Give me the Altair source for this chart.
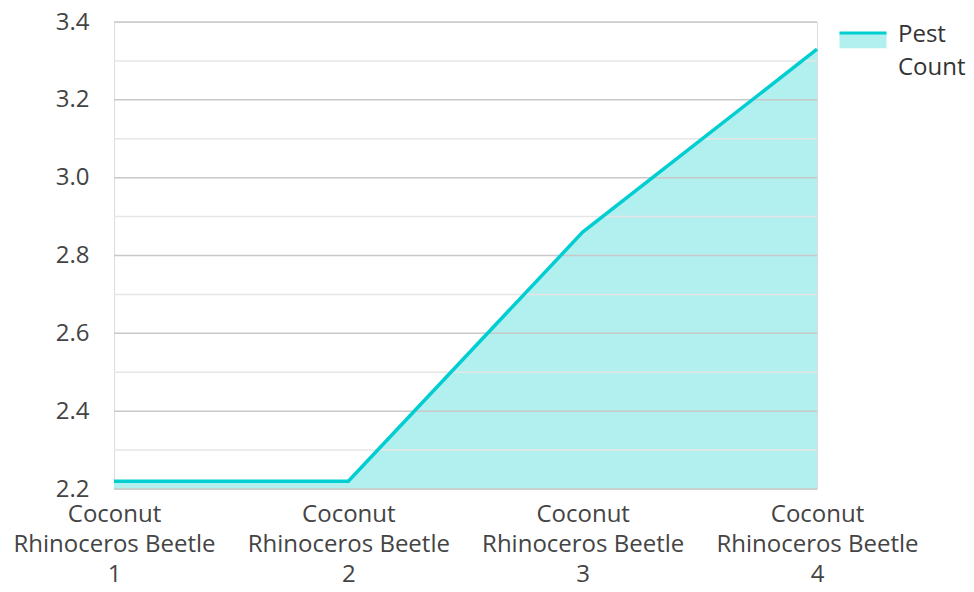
import altair as alt
import pandas as pd

categories = ["Coconut\nRhinoceros Beetle\n1", "Coconut\nRhinoceros Beetle\n2",
              "Coconut\nRhinoceros Beetle\n3", "Coconut\nRhinoceros Beetle\n4"]
pest_count = [2.22, 2.22, 2.86, 3.33]
series_name = "Pest Count"
major_ticks = [2.2, 2.4, 2.6, 2.8, 3.0, 3.2, 3.4]
minor_ticks = [2.3, 2.5, 2.7, 2.9, 3.1, 3.3]

df = pd.DataFrame({"cat": categories, "value": pest_count, "series": [series_name] * len(categories)})
major_df = pd.DataFrame({"v": major_ticks})
minor_df = pd.DataFrame({"v": minor_ticks})

FONT = "Open Sans"
FS = 24
LINE = "#00CED1"
FILL = "#B2EFEF"

x_enc = alt.X("cat:N", sort=categories, title=None,
              scale=alt.Scale(type="point", padding=0),
              axis=alt.Axis(labelExpr="split(datum.label, '\\n')", labelAngle=0,
                            labelFont=FONT, labelFontSize=FS, labelColor="#444444",
                            labelLineHeight=30, labelPadding=13, labelBaseline="top",
                            labelOverlap=False, labelBound=False, labelLimit=400,
                            domain=False, ticks=False, grid=False))
y_scale = alt.Scale(domain=[2.2, 3.4], nice=False, zero=False)

area = alt.Chart(df).mark_area(opacity=1, clip=True).encode(
    x=x_enc,
    y=alt.Y("value:Q", scale=y_scale, title=None,
            axis=alt.Axis(values=major_ticks, format=".1f", labelFont=FONT, labelFontSize=FS,
                          labelColor="#444444", labelPadding=25, domain=False, ticks=False,
                          labelOverlap=False, grid=False)),
    color=alt.Color("series:N", scale=alt.Scale(range=[FILL]), title=None,
                    legend=alt.Legend(orient="none", legendX=724, legendY=-24,
                                      symbolType="M-1,0.43 L1,0.43 L1,1.07 L-1,1.07 Z",
                                      symbolSize=2209, symbolFillColor=FILL,
                                      symbolStrokeColor=LINE, symbolStrokeWidth=3,
                                      symbolDash=[47, 400], symbolOpacity=1,
                                      labelExpr="split(datum.label, ' ')",
                                      labelFont=FONT, labelFontSize=FS, labelColor="#333333",
                                      labelOffset=10, labelBaseline="top", labelLimit=200)),
)

minor = alt.Chart(minor_df).mark_rule(color="#E6E6E6", strokeWidth=1.5).encode(
    y=alt.Y("v:Q", scale=y_scale))
major = alt.Chart(major_df).mark_rule(color="#C8C8C8", strokeWidth=1.5).encode(
    y=alt.Y("v:Q", scale=y_scale))

line = alt.Chart(df).mark_line(color=LINE, strokeWidth=3.5).encode(
    x=alt.X("cat:N", sort=categories),
    y=alt.Y("value:Q", scale=y_scale),
)

chart = alt.layer(area, minor, major, line).properties(
    width=703, height=467,
    autosize=alt.AutoSizeParams(type="none"),
    padding={"left": 106, "top": 14, "right": 149, "bottom": 95},
    background="white",
).configure_view(stroke=None).configure(style={"guide-label": {"lineHeight": 33}})

chart.save("out.html", embed_options={"renderer": "svg", "actions": False})
